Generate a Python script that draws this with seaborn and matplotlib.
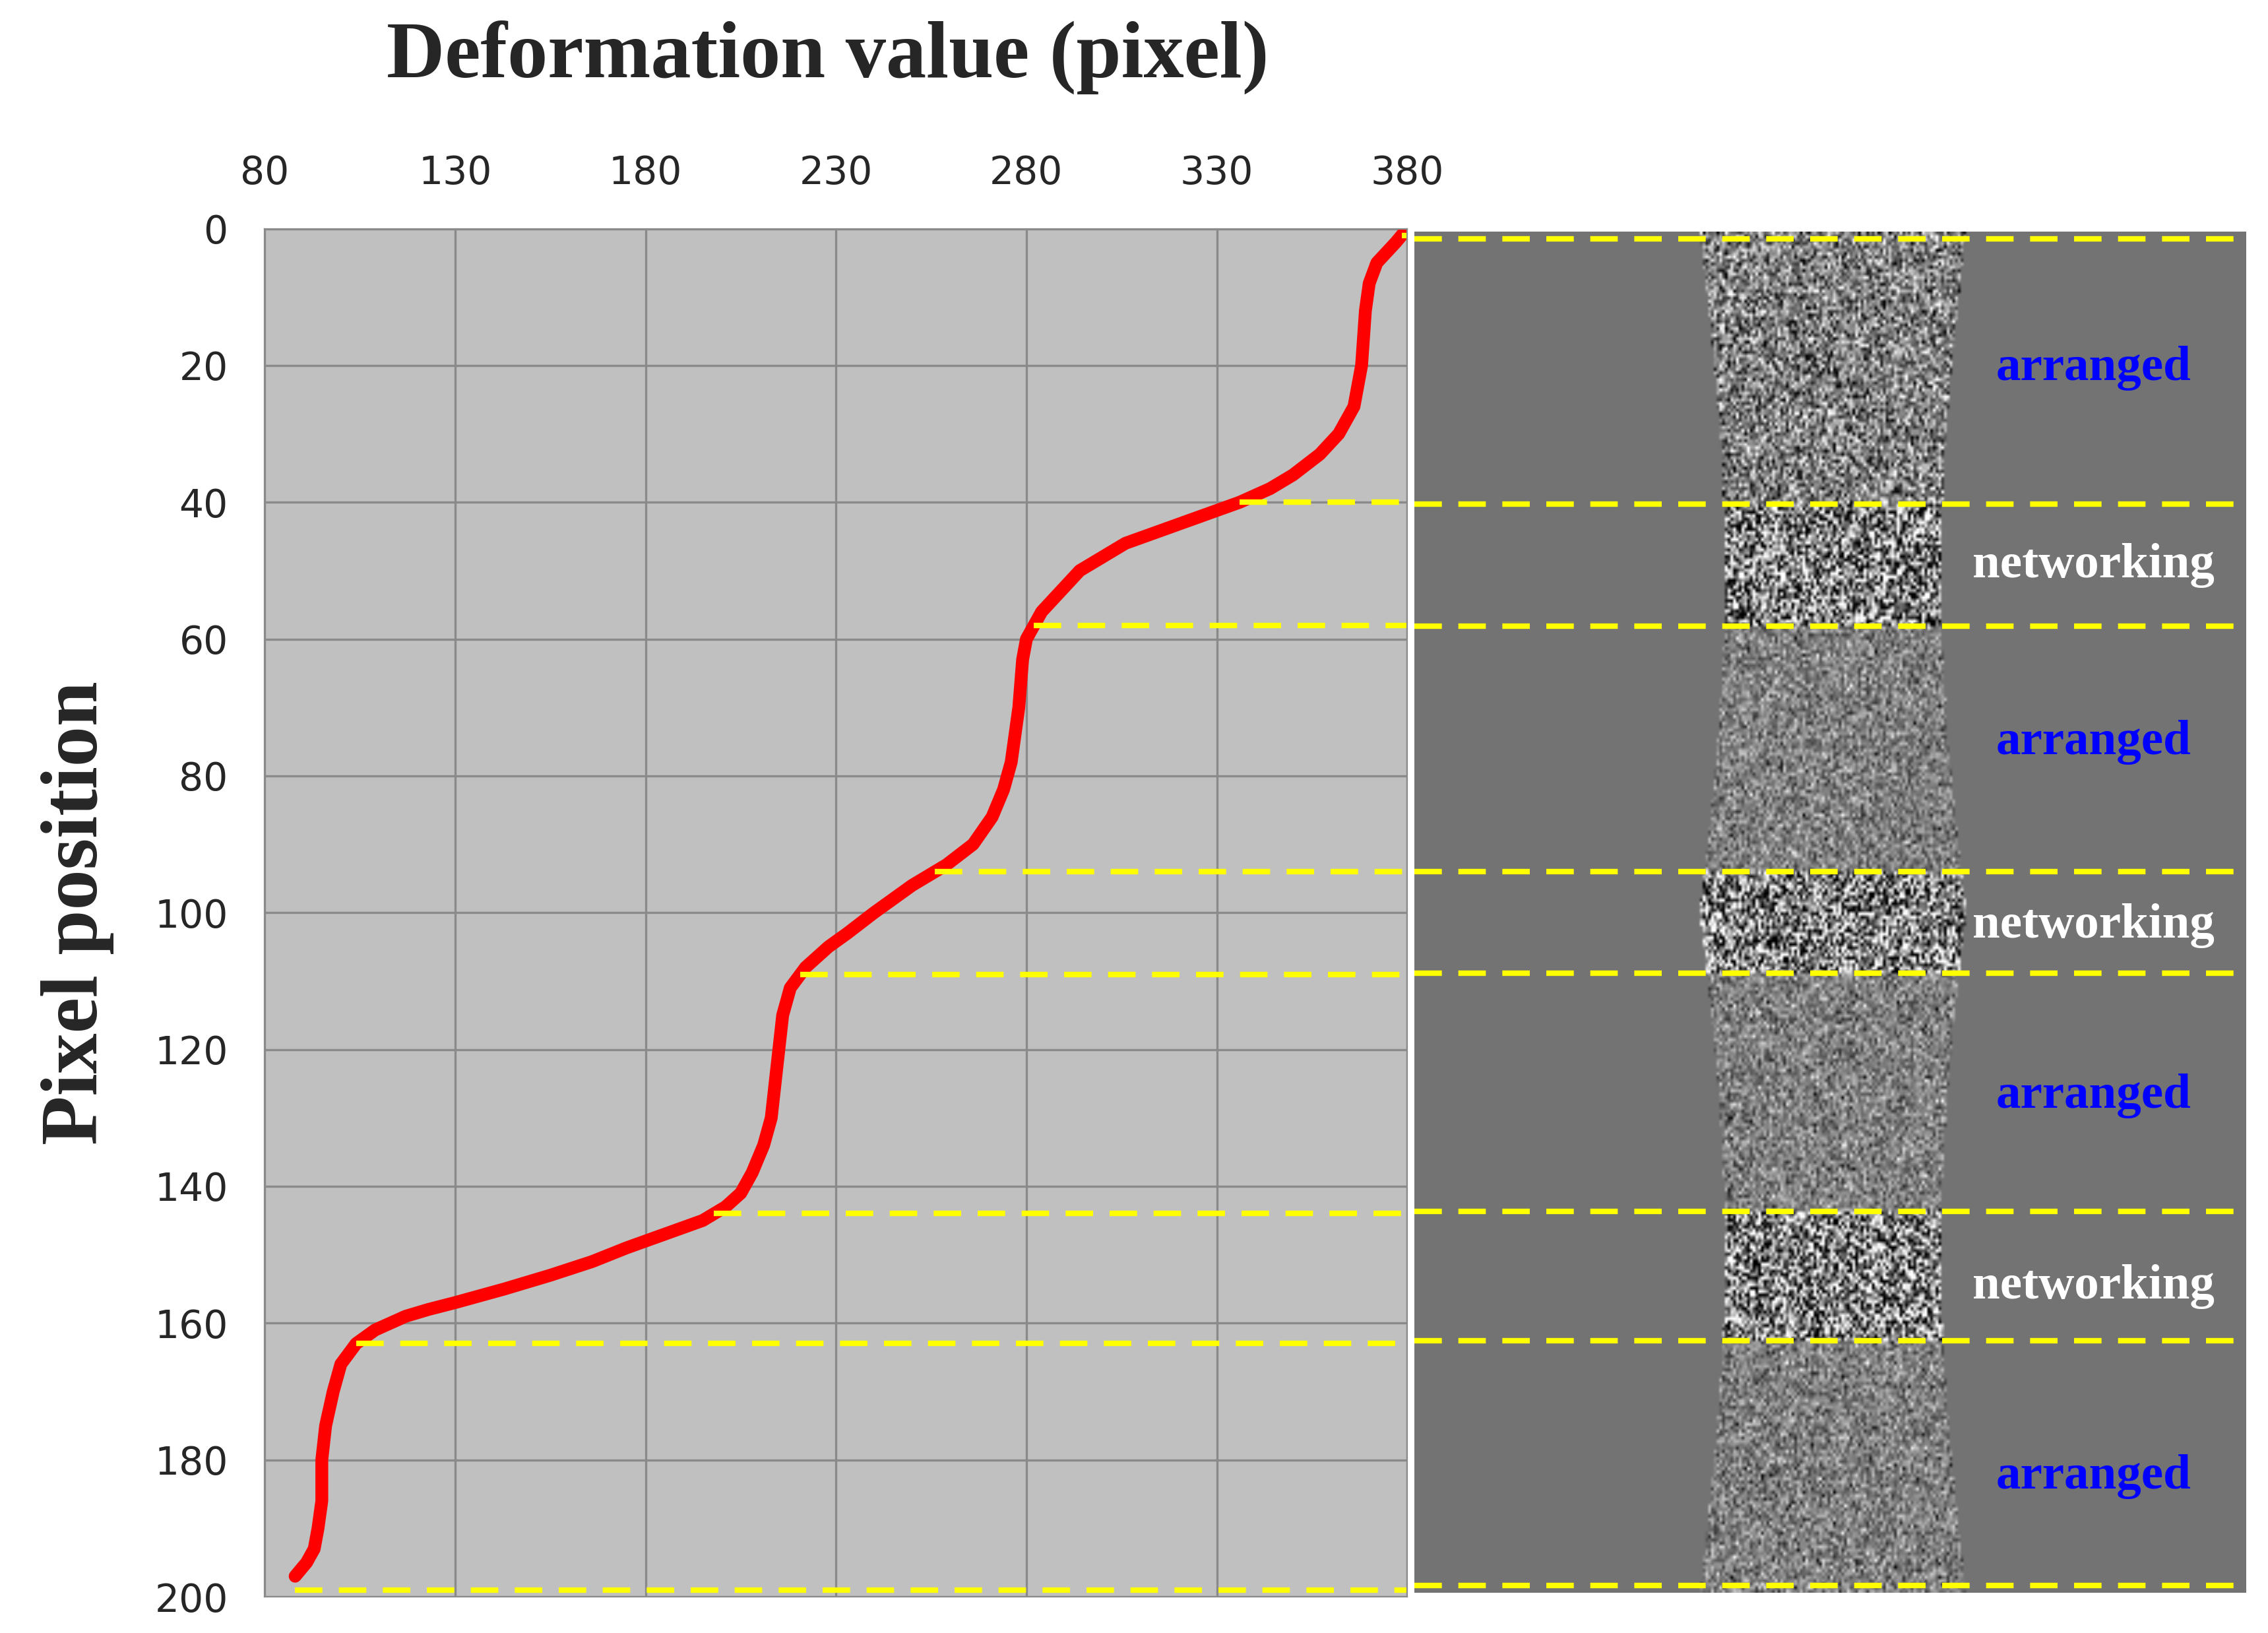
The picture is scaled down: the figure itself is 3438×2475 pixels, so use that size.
import numpy as np
import pandas as pd
import seaborn as sns
import matplotlib.pyplot as plt

# curve
pixel_position = [0, 2, 5, 8, 12, 20, 26, 30, 33, 36, 38, 40, 42, 44, 46, 48, 50, 53, 56,
                  58, 60, 63, 70, 78, 82, 86, 90, 93, 96, 100, 103, 105, 108, 111, 115, 120,
                  125, 130, 134, 138, 141, 143, 145, 147, 149, 151, 153, 155, 157, 158, 159,
                  161, 163, 166, 170, 175, 180, 186, 190, 193, 195, 197]
deformation = [380, 377, 372, 370, 369, 368, 366, 362, 357, 350, 344, 336, 326, 316, 306,
               300, 294, 289, 284, 282, 280, 279, 278, 276, 274, 271, 266, 259, 250, 240,
               233, 228, 222, 218, 216, 215, 214, 213, 211, 208, 205, 201, 195, 185, 175,
               166, 155, 143, 130, 123, 117, 109, 104, 100, 98, 96, 95, 95, 94, 93, 91, 88]
boundaries = [1, 40, 58, 94, 109, 144, 163, 199]
label_pos = [20, 49, 75, 102, 127, 155, 183]
label_txt = ["arranged", "networking", "arranged", "networking", "arranged", "networking", "arranged"]
x_ticks = [80, 130, 180, 230, 280, 330, 380]
y_ticks = list(range(0, 201, 20))

df = pd.DataFrame({"x": deformation, "y": pixel_position})

sns.set_style("white")
fig = plt.figure(figsize=(17.19, 12.375), dpi=200)
ax = fig.add_axes([0.1167, 0.0222, 0.5038, 0.8378])
ax.set_facecolor("#c0c0c0")
sns.lineplot(data=df, x="x", y="y", sort=False, estimator=None, color="red", lw=7, ax=ax,
             solid_capstyle="round", solid_joinstyle="round")
ax.set_xlim(80, 380)
ax.set_ylim(200, 0)
ax.set_xticks(x_ticks)
ax.set_yticks(y_ticks)
ax.xaxis.tick_top()
ax.grid(True, color="#8a8a8a", lw=1.2)
ax.tick_params(labelsize=21, length=0, pad=20)
ax.set_xlabel("")
ax.set_ylabel("Pixel position", family="Liberation Serif", weight="bold", fontsize=44, labelpad=22)
for s in ax.spines.values():
    s.set_color("#8a8a8a")
fig.text(0.365, 0.965, "Deformation value (pixel)", family="Liberation Serif",
         weight="bold", fontsize=44, ha="center", va="center")

for b in boundaries:
    xs = np.interp(b, pixel_position, deformation)
    ax.plot([max(xs, 85), 380], [b, b], color="yellow", lw=3, ls=(0, (5, 3)), clip_on=False)

# specimen image panel
ax2 = fig.add_axes([0.6237, 0.0248, 0.3667, 0.8332])
h, w = 400, 300
rng = np.random.default_rng(3)
img = np.full((h, w), 0.45)
rows = np.linspace(0, 200, h)
for i, r in enumerate(rows):
    half = 0.16 - 0.03 * np.sin(np.pi * (r % 100) / 100)
    c0, c1 = int((0.505 - half) * w), int((0.505 + half) * w)
    net = any(a <= r <= b for a, b in [(40, 58), (94, 109), (144, 163)])
    amp = 0.45 if net else (0.25 if r < 40 else 0.15)
    img[i, c0:c1] = np.clip(0.5 + amp * rng.standard_normal(c1 - c0), 0, 1)
ax2.imshow(img, cmap="gray", vmin=0, vmax=1, extent=[0, 1, 200, 0], aspect="auto",
           interpolation="bilinear")
ax2.set_xlim(0, 1)
ax2.set_ylim(200, 0)
ax2.axis("off")
for b in boundaries:
    ax2.axhline(b, color="yellow", lw=3, ls=(0, (5, 3)))
for p, t in zip(label_pos, label_txt):
    ax2.text(0.816, p, t, family="Liberation Serif", weight="bold", fontsize=27,
             color="blue" if t == "arranged" else "white", ha="center", va="center")

fig.savefig("out.png", dpi=200)
